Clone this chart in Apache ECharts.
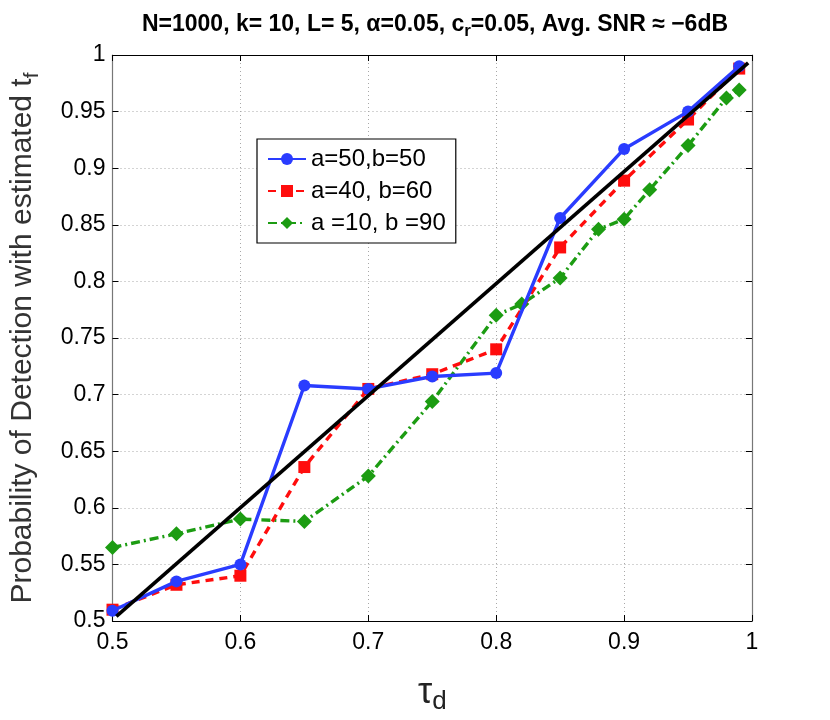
<!DOCTYPE html>
<html>
<head>
<meta charset="utf-8">
<script src="https://cdn.jsdelivr.net/npm/echarts@6/dist/echarts.min.js"></script>
<style>
  html, body { margin: 0; padding: 0; background: #fff; }
  #chart { width: 830px; height: 720px; }
</style>
</head>
<body>
<div id="chart"></div>
<script>
// tau_d values for each curve
const xAB50 = [0.5, 0.55, 0.6, 0.65, 0.7, 0.75, 0.8, 0.85, 0.9, 0.95, 0.99];
const yAB50 = [0.509, 0.535, 0.550, 0.708, 0.705, 0.716, 0.719, 0.856, 0.917, 0.950, 0.990];

const xAB4060 = [0.5, 0.55, 0.6, 0.65, 0.7, 0.75, 0.8, 0.85, 0.9, 0.95, 0.99];
const yAB4060 = [0.510, 0.532, 0.540, 0.636, 0.705, 0.718, 0.740, 0.830, 0.889, 0.943, 0.988];

const xAB1090 = [0.5, 0.55, 0.6, 0.65, 0.7, 0.75, 0.8, 0.82, 0.85, 0.88, 0.9, 0.92, 0.95, 0.98, 0.99];
const yAB1090 = [0.565, 0.577, 0.590, 0.588, 0.628, 0.694, 0.770, 0.780, 0.803, 0.846, 0.855, 0.881, 0.920, 0.962, 0.969];

// reference diagonal
const xRef = [0.503, 0.997];
const yRef = [0.504, 0.993];

const seriesNames = ['a=50,b=50', 'a=40, b=60', 'a =10, b =90'];

function pairs(xs, ys) {
    return xs.map((x, i) => [x, ys[i]]);
}

const font = '"Liberation Sans", Arial, Helvetica, sans-serif';
const chart = echarts.init(document.getElementById('chart'));

const gridLine = { show: true, lineStyle: { color: '#a8a8a8', type: [1, 3], width: 1 } };

const option = {
    animation: false,
    backgroundColor: '#fff',
    textStyle: { fontFamily: font },
    title: {
        text: 'N=1000, k= 10, L= 5, α=0.05, c{sub|r}=0.05, Avg. SNR ≈ −6dB',
        left: 430,
        textAlign: 'center',
        top: 4,
        textStyle: {
            fontFamily: font, fontSize: 23, fontWeight: 'bold', color: '#000',
            rich: {
                sub: { fontFamily: font, fontSize: 17, fontWeight: 'bold', color: '#000', verticalAlign: 'bottom', padding: [14, 0, 0, 0] }
            }
        }
    },
    legend: {
        data: seriesNames,
        orient: 'vertical',
        left: 257,
        top: 139,
        width: 197,
        backgroundColor: '#fff',
        borderColor: '#000',
        borderWidth: 1.2,
        padding: [8, 10, 8, 10],
        itemGap: 8,
        itemWidth: 38,
        itemHeight: 15,
        textStyle: { fontFamily: font, fontSize: 24, color: '#000' }
    },
    grid: { left: 108, right: 78, top: 55, bottom: 96, containLabel: false },
    xAxis: [{
        type: 'value', min: 0.5, max: 1, interval: 0.1,
        name: 'τ{sub|d}',
        nameLocation: 'middle',
        nameGap: 50,
        nameTextStyle: {
            fontFamily: font, fontSize: 36, color: '#222',
            rich: { sub: { fontFamily: font, fontSize: 26, color: '#222', padding: [18, 0, 0, 0] } }
        },
        axisLine: { show: true, onZero: false, lineStyle: { color: '#000', width: 1.2 } },
        axisTick: { show: true, inside: true, length: 6, lineStyle: { color: '#000' } },
        axisLabel: { fontFamily: font, fontSize: 23, color: '#000', margin: 10 },
        splitLine: gridLine
    }, {
        type: 'value', min: 0.5, max: 1, interval: 0.1, position: 'top',
        axisLine: { show: true, onZero: false, lineStyle: { color: '#000', width: 1.2 } },
        axisTick: { show: true, inside: true, length: 6, lineStyle: { color: '#000' } },
        axisLabel: { show: false },
        splitLine: { show: false }
    }],
    yAxis: [{
        type: 'value', min: 0.5, max: 1, interval: 0.05,
        name: 'Probability of Detection with estimated t{sub|f}',
        nameLocation: 'middle',
        nameRotate: 90,
        nameGap: 70,
        nameTextStyle: {
            fontFamily: font, fontSize: 30, color: '#333',
            rich: { sub: { fontFamily: font, fontSize: 21, color: '#333', padding: [18, 0, 0, 0] } }
        },
        axisLine: { show: true, onZero: false, lineStyle: { color: '#777', width: 1.2 } },
        axisTick: { show: true, inside: true, length: 6, lineStyle: { color: '#000' } },
        axisLabel: { fontFamily: font, fontSize: 23, color: '#000', margin: 7 },
        splitLine: gridLine
    }, {
        type: 'value', min: 0.5, max: 1, interval: 0.05, position: 'right',
        axisLine: { show: true, onZero: false, lineStyle: { color: '#777', width: 1.2 } },
        axisTick: { show: true, inside: true, length: 6, lineStyle: { color: '#000' } },
        axisLabel: { show: false },
        splitLine: { show: false }
    }],
    series: [{
        name: seriesNames[0],
        type: 'line',
        data: pairs(xAB50, yAB50),
        symbol: 'circle',
        symbolSize: 12,
        itemStyle: { color: '#2a3cff' },
        lineStyle: { color: '#2a3cff', width: 3.4 },
        z: 4
    }, {
        name: seriesNames[1],
        type: 'line',
        data: pairs(xAB4060, yAB4060),
        symbol: 'rect',
        symbolSize: 12,
        itemStyle: { color: '#ff0d0d' },
        lineStyle: { color: '#ff0d0d', width: 3.4, type: [8, 6] },
        z: 3
    }, {
        name: seriesNames[2],
        type: 'line',
        data: pairs(xAB1090, yAB1090),
        symbol: 'diamond',
        symbolSize: 15,
        itemStyle: { color: '#1c9c12' },
        lineStyle: { color: '#1c9c12', width: 3.4, type: [9, 4, 2, 4] },
        z: 2
    }, {
        name: 'ref',
        type: 'line',
        data: pairs(xRef, yRef),
        symbol: 'none',
        lineStyle: { color: '#000', width: 3.6 },
        z: 5
    }]
};

chart.setOption(option);
</script>
</body>
</html>
